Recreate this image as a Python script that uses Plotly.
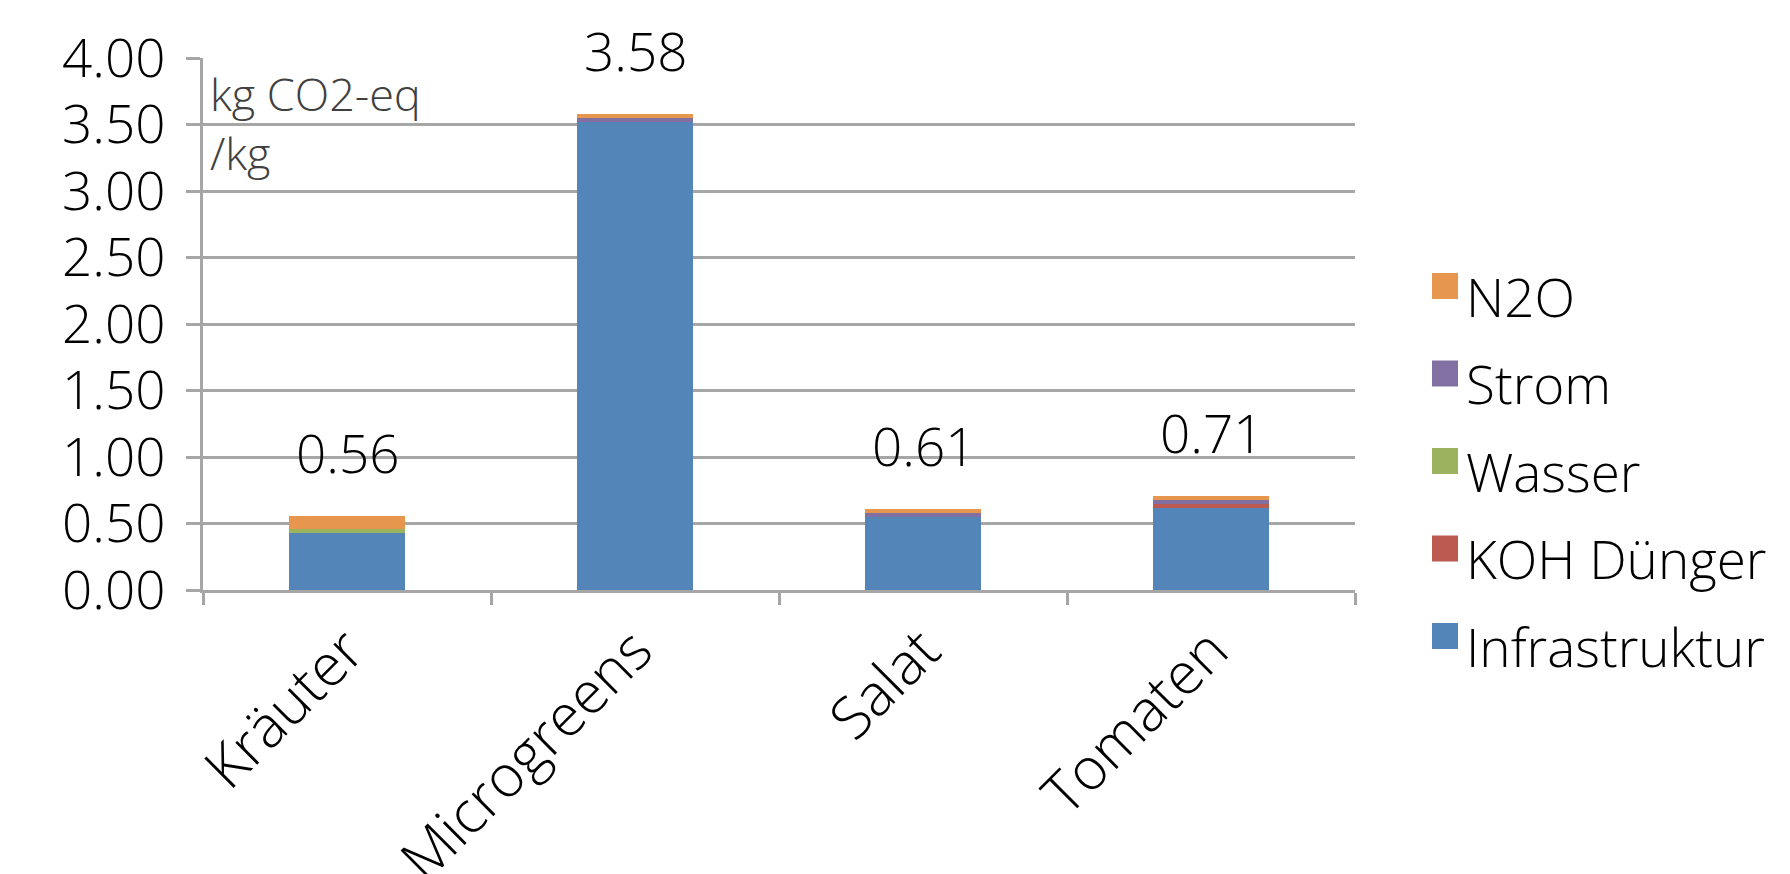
import plotly.graph_objects as go

categories = ["Kräuter", "Microgreens", "Salat", "Tomaten"]

infrastruktur = [0.43, 3.52, 0.55, 0.62]
koh_duenger = [0.00, 0.00, 0.00, 0.03]
wasser = [0.03, 0.00, 0.00, 0.00]
strom = [0.00, 0.03, 0.03, 0.03]
n2o = [0.10, 0.03, 0.03, 0.03]

totals = [0.56, 3.58, 0.61, 0.71]
y_ticks = [0.0, 0.5, 1.0, 1.5, 2.0, 2.5, 3.0, 3.5, 4.0]

series_names = ["Infrastruktur", "KOH Dünger", "Wasser", "Strom", "N2O"]
series_values = [infrastruktur, koh_duenger, wasser, strom, n2o]
series_colors = ["#5385B8", "#BC5A52", "#9BB35F", "#8270A3", "#E7964E"]

FONT = "Open Sans, Helvetica Neue, Arial, sans-serif"
GRID = "#A6A6A6"
SIZE = 53

fig = go.Figure()
for name, vals, col in zip(series_names, series_values, series_colors):
    fig.add_trace(go.Bar(
        x=categories, y=vals, name=name,
        marker=dict(color=col, line=dict(width=0)),
        showlegend=False,
    ))

# total labels above each stack
for cat, tot in zip(categories, totals):
    fig.add_annotation(
        x=cat, y=tot, text=f"{tot:.2f}", showarrow=False,
        yanchor="middle", yshift=63,
        font=dict(family=FONT, size=SIZE, color="#000000", weight=300),
    )

W, H = 1790, 874
L, R, T, B = 203, 435, 58, 284
pw, ph = W - L - R, H - T - B

# unit label inside the plot
fig.add_annotation(
    xref="paper", yref="paper", x=5 / pw, y=1 - 3 / ph,
    xanchor="left", yanchor="top", align="left",
    text="kg CO2-eq<br>/kg", showarrow=False,
    font=dict(family=FONT, size=45, color="#404040", weight=300),
)

# legend drawn as colour boxes with labels, top entry = last series
legend_x0 = 1432
legend_top = 296
legend_step = 87.5
for i, (name, col) in enumerate(zip(reversed(series_names), reversed(series_colors))):
    cy = legend_top + i * legend_step
    x0 = (legend_x0 - L) / pw
    x1 = (legend_x0 + 26 - L) / pw
    ya = 1 - (cy - 23 - T) / ph
    yb = 1 - (cy + 3 - T) / ph
    fig.add_shape(type="rect", xref="paper", yref="paper",
                  x0=x0, x1=x1, y0=yb, y1=ya,
                  fillcolor=col, line=dict(width=0))
    fig.add_annotation(
        xref="paper", yref="paper",
        x=(1464 - L) / pw, y=1 - (cy - T) / ph,
        xanchor="left", yanchor="middle", text=name, showarrow=False,
        font=dict(family=FONT, size=SIZE, color="#000000", weight=300),
    )

fig.update_layout(
    width=W, height=H,
    margin=dict(l=L, r=R, t=T, b=B, autoexpand=False),
    barmode="stack", bargap=0.594,
    plot_bgcolor="white", paper_bgcolor="white",
    showlegend=False,
    font=dict(family=FONT, size=SIZE, color="#000000", weight=300),
)
fig.update_yaxes(
    range=[0, 4], tickvals=y_ticks, tickformat=".2f",
    showgrid=True, gridcolor=GRID, gridwidth=3,
    showline=True, linecolor=GRID, linewidth=3,
    ticks="outside", ticklen=14, tickcolor=GRID, tickwidth=3,
    ticklabelstandoff=10,
    zeroline=False,
    tickfont=dict(family=FONT, size=SIZE, color="#000000", weight=300),
)
fig.update_xaxes(
    showline=True, linecolor=GRID, linewidth=3,
    ticks="outside", tickson="boundaries", ticklen=12, tickcolor=GRID, tickwidth=3,
    showgrid=False, tickangle=-45,
    tickfont=dict(family=FONT, size=58, color="#000000", weight=300),
)

fig.write_html("out.html")
